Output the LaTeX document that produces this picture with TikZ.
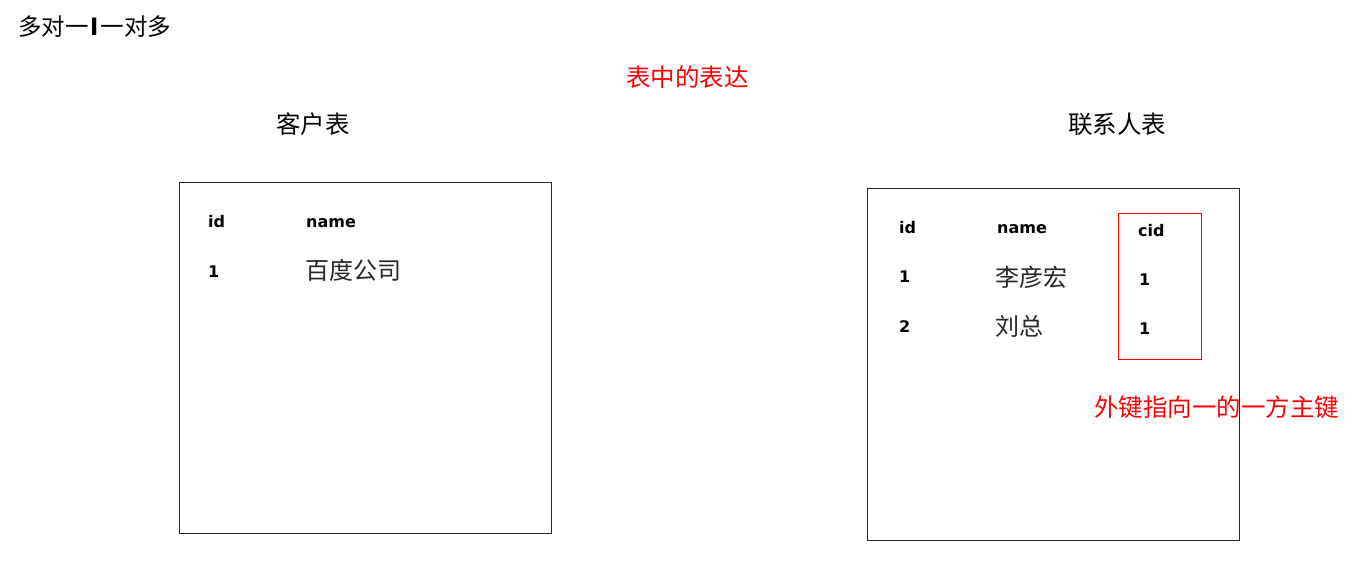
\documentclass[tikz,border=0pt]{standalone}
\usepackage{fontspec}
\setmainfont{Liberation Sans}
\newfontfamily\cjk{Noto Sans CJK SC}
\newfontfamily\hdr{DejaVu Sans}
\begin{document}
\begin{tikzpicture}[x=1pt,y=-1pt,
  cn/.style={anchor=west,inner sep=0pt,font=\cjk\fontsize{24}{28}\selectfont,text=black!85},
  big/.style={anchor=west,inner sep=0pt,font=\cjk\fontsize{24.5}{28}\selectfont},
  bd/.style={anchor=base west,inner sep=0pt,font=\hdr\bfseries\fontsize{16}{19}\selectfont},
  tbl/.style={draw=black!85,line width=1.4pt},
  fk/.style={draw=red,line width=1.2pt}]
\useasboundingbox (0,0) rectangle (1354,569);
\node[anchor=west,inner sep=0pt,font=\cjk\fontsize{23.5}{26}\selectfont] (title) at (18,27) {多对一\kern2pt\textbf{I}\kern2pt一对多};
\node[big,text=red] (expr) at (626,77) {表中的表达};
\node[big] (kh) at (276,124) {客户表};
\node[big] (lxr) at (1068,124) {联系人表};
\node[tbl,anchor=north west,minimum width=372pt,minimum height=351pt,inner sep=0pt] (ltab) at (179,182) {};
\node[tbl,anchor=north west,minimum width=372pt,minimum height=352pt,inner sep=0pt] (rtab) at (867,188) {};
\node[fk,anchor=north west,minimum width=83pt,minimum height=146pt,inner sep=0pt] (cidbox) at (1118,213) {};
% left table
\node[bd] (lid) at (208,228) {id};
\node[bd] (lname) at (306,228) {name};
\node[bd] (l1) at (208,277) {1};
\node[cn] (baidu) at (305,270) {百度公司};
% right table
\node[bd] (rid) at (899,234) {id};
\node[bd] (rname) at (997,234) {name};
\node[bd] (rcid) at (1138,237) {cid};
\node[bd] (r1) at (899,283) {1};
\node[cn] (li) at (995,277) {李彦宏};
\node[bd] (c1) at (1139,286) {1};
\node[bd] (r2) at (899,332) {2};
\node[cn] (liu) at (995,326) {刘总};
\node[bd] (c2) at (1139,334) {1};
\node[big,text=red] (fknote) at (1094,407) {外键指向一的一方主键};
\end{tikzpicture}
\end{document}
